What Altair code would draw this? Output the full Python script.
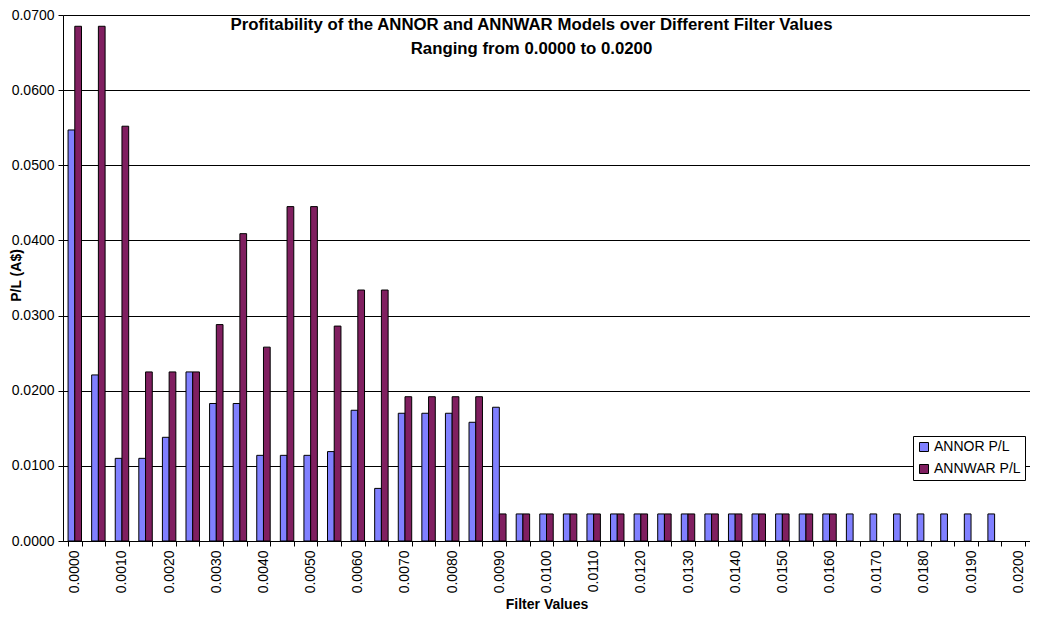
import altair as alt
import pandas as pd

filter_values = [f"{i * 0.0005:.4f}" for i in range(41)]

annor_pl = [0.0547, 0.0221, 0.0110, 0.0110, 0.0138, 0.0225, 0.0183, 0.0183,
            0.0114, 0.0114, 0.0114, 0.0119, 0.0174, 0.0070, 0.0170, 0.0170,
            0.0170, 0.0158, 0.0178,
            0.0036, 0.0036, 0.0036, 0.0036, 0.0036, 0.0036, 0.0036, 0.0036,
            0.0036, 0.0036, 0.0036, 0.0036, 0.0036, 0.0036, 0.0036, 0.0036,
            0.0036, 0.0036, 0.0036, 0.0036, 0.0036,
            None]

annwar_pl = [0.0685, 0.0685, 0.0552, 0.0225, 0.0225, 0.0225, 0.0288, 0.0409,
             0.0258, 0.0445, 0.0445, 0.0286, 0.0334, 0.0334, 0.0192, 0.0192,
             0.0192, 0.0192, 0.0036,
             0.0036, 0.0036, 0.0036, 0.0036, 0.0036, 0.0036, 0.0036, 0.0036,
             0.0036, 0.0036, 0.0036, 0.0036, 0.0036, 0.0036,
             None, None, None, None, None, None, None, None]

series_names = ["ANNOR P/L", "ANNWAR P/L"]
series_colors = ["#8080FF", "#801F60"]

y_ticks = [0.0, 0.01, 0.02, 0.03, 0.04, 0.05, 0.06, 0.07]

rows = []
for fv, a, w in zip(filter_values, annor_pl, annwar_pl):
    if a is not None:
        rows.append({"filter": fv, "series": series_names[0], "pl": a})
    if w is not None:
        rows.append({"filter": fv, "series": series_names[1], "pl": w})
df = pd.DataFrame(rows)

FONT = "Liberation Sans"

chart = alt.Chart(df).mark_bar(stroke="black", strokeWidth=1).encode(
    x=alt.X(
        "filter:N",
        scale=alt.Scale(domain=filter_values, paddingInner=0.43, paddingOuter=0.215),
        axis=alt.Axis(
            title="Filter Values",
            labelAngle=-90,
            labelExpr="substring(datum.value, 5, 6) == '0' ? datum.value : ''",
            tickBand="extent",
            tickSize=5,
            tickColor="black",
            domainColor="black",
            labelFont=FONT,
            labelFontSize=14,
            labelColor="black",
            labelPadding=4,
            titleFont=FONT,
            titleFontSize=14,
            titleFontWeight="bold",
            titleColor="black",
            titleY=63,
            titleBaseline="middle",
            grid=False,
        ),
    ),
    xOffset=alt.XOffset("series:N", sort=series_names),
    y=alt.Y(
        "pl:Q",
        scale=alt.Scale(domain=[0, 0.07], nice=False),
        axis=alt.Axis(
            title="P/L  (A$)",
            values=y_ticks,
            format=".4f",
            tickSize=5,
            tickColor="black",
            domainColor="black",
            gridColor="black",
            gridWidth=1,
            labelFont=FONT,
            labelFontSize=14,
            labelColor="black",
            labelPadding=4,
            titleFont=FONT,
            titleFontSize=14,
            titleFontWeight="bold",
            titleColor="black",
            titleX=-47,
            titleY=260,
            titleAngle=-90,
            titleAlign="center",
            titleBaseline="middle",
        ),
    ),
    color=alt.Color(
        "series:N",
        scale=alt.Scale(domain=series_names, range=series_colors),
        legend=alt.Legend(
            title=None,
            orient="none",
            legendX=850,
            legendY=421,
            fillColor="white",
            strokeColor="black",
            padding=4,
            symbolType="square",
            symbolSize=81,
            symbolStrokeColor="black",
            symbolStrokeWidth=1,
            labelFont=FONT,
            labelFontSize=14,
            labelColor="black",
            labelOffset=3,
            rowPadding=8,
        ),
    ),
).properties(
    width=967,
    height=526,
    title=alt.TitleParams(
        text=["Profitability of the ANNOR and ANNWAR Models over Different Filter Values",
              "Ranging from 0.0000 to 0.0200"],
        font=FONT,
        fontSize=16.8,
        fontWeight="bold",
        color="black",
        anchor="middle",
        baseline="top",
        offset=0,
        dy=50,
        dx=-15,
        lineHeight=24,
    ),
    autosize=alt.AutoSizeParams(type="none"),
    padding={"left": 55, "top": 7, "right": 0, "bottom": 70},
).configure_view(
    fill="#E2E2E2",
    stroke=None,
).configure(background="white")

chart.save("out.html", embed_options={"renderer": "svg", "actions": False})
